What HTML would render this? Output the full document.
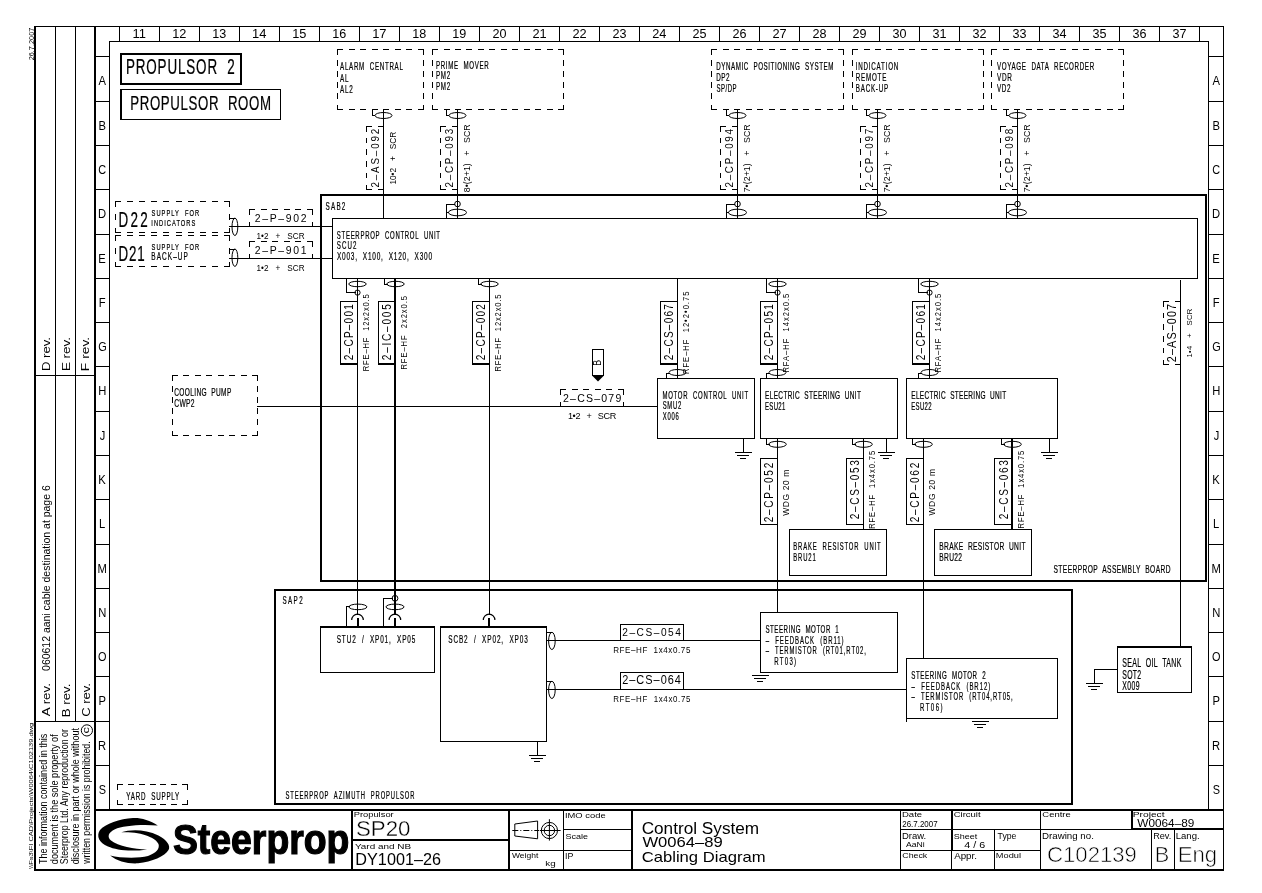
<!DOCTYPE html>
<html><head><meta charset="utf-8"><style>
html,body{margin:0;padding:0;background:#fff;}
svg{display:block;}
text{font-family:"Liberation Sans",sans-serif;fill:#000;white-space:pre;}
svg{will-change:transform;}
</style></head><body>
<svg width="1262" height="893" viewBox="0 0 1262 893" shape-rendering="crispEdges">
<rect x="0" y="0" width="1262" height="893" fill="#fff"/>
<rect x="34" y="26" width="2" height="845"/>
<rect x="34" y="26" width="1190" height="1"/>
<rect x="55" y="26" width="1" height="696"/>
<rect x="75" y="26" width="1" height="696"/>
<rect x="94" y="26" width="2" height="845"/>
<rect x="34" y="375" width="61" height="1"/>
<rect x="34" y="721" width="61" height="1"/>
<rect x="109" y="41" width="1" height="769"/>
<rect x="109" y="41" width="1100" height="1"/>
<rect x="119" y="26" width="1" height="16"/>
<rect x="159" y="26" width="1" height="16"/>
<rect x="199" y="26" width="1" height="16"/>
<rect x="239" y="26" width="1" height="16"/>
<rect x="279" y="26" width="1" height="16"/>
<rect x="319" y="26" width="1" height="16"/>
<rect x="359" y="26" width="1" height="16"/>
<rect x="399" y="26" width="1" height="16"/>
<rect x="439" y="26" width="1" height="16"/>
<rect x="479" y="26" width="1" height="16"/>
<rect x="519" y="26" width="1" height="16"/>
<rect x="559" y="26" width="1" height="16"/>
<rect x="599" y="26" width="1" height="16"/>
<rect x="639" y="26" width="1" height="16"/>
<rect x="679" y="26" width="1" height="16"/>
<rect x="719" y="26" width="1" height="16"/>
<rect x="759" y="26" width="1" height="16"/>
<rect x="799" y="26" width="1" height="16"/>
<rect x="839" y="26" width="1" height="16"/>
<rect x="879" y="26" width="1" height="16"/>
<rect x="919" y="26" width="1" height="16"/>
<rect x="959" y="26" width="1" height="16"/>
<rect x="999" y="26" width="1" height="16"/>
<rect x="1039" y="26" width="1" height="16"/>
<rect x="1079" y="26" width="1" height="16"/>
<rect x="1119" y="26" width="1" height="16"/>
<rect x="1159" y="26" width="1" height="16"/>
<rect x="1199" y="26" width="1" height="16"/>
<rect x="95" y="56" width="15" height="1"/>
<rect x="1208" y="56" width="16" height="1"/>
<rect x="95" y="101" width="15" height="1"/>
<rect x="1208" y="101" width="16" height="1"/>
<rect x="95" y="145" width="15" height="1"/>
<rect x="1208" y="145" width="16" height="1"/>
<rect x="95" y="189" width="15" height="1"/>
<rect x="1208" y="189" width="16" height="1"/>
<rect x="95" y="234" width="15" height="1"/>
<rect x="1208" y="234" width="16" height="1"/>
<rect x="95" y="278" width="15" height="1"/>
<rect x="1208" y="278" width="16" height="1"/>
<rect x="95" y="322" width="15" height="1"/>
<rect x="1208" y="322" width="16" height="1"/>
<rect x="95" y="366" width="15" height="1"/>
<rect x="1208" y="366" width="16" height="1"/>
<rect x="95" y="411" width="15" height="1"/>
<rect x="1208" y="411" width="16" height="1"/>
<rect x="95" y="455" width="15" height="1"/>
<rect x="1208" y="455" width="16" height="1"/>
<rect x="95" y="499" width="15" height="1"/>
<rect x="1208" y="499" width="16" height="1"/>
<rect x="95" y="544" width="15" height="1"/>
<rect x="1208" y="544" width="16" height="1"/>
<rect x="95" y="588" width="15" height="1"/>
<rect x="1208" y="588" width="16" height="1"/>
<rect x="95" y="632" width="15" height="1"/>
<rect x="1208" y="632" width="16" height="1"/>
<rect x="95" y="676" width="15" height="1"/>
<rect x="1208" y="676" width="16" height="1"/>
<rect x="95" y="721" width="15" height="1"/>
<rect x="1208" y="721" width="16" height="1"/>
<rect x="95" y="765" width="15" height="1"/>
<rect x="1208" y="765" width="16" height="1"/>
<rect x="1208" y="41" width="1" height="769"/>
<rect x="1223" y="26" width="1" height="845"/>
<rect x="94" y="809" width="1130" height="2"/>
<rect x="34" y="869" width="1190" height="2"/>
<text transform="translate(132.61,38.00) scale(1.0000,1)" font-size="12.945">11</text>
<text transform="translate(172.26,38.00) scale(1.0000,1)" font-size="12.760">12</text>
<text transform="translate(212.31,37.87) scale(1.0000,1)" font-size="12.580">13</text>
<text transform="translate(252.01,38.00) scale(1.0000,1)" font-size="12.945">14</text>
<text transform="translate(292.19,37.87) scale(1.0000,1)" font-size="12.760">15</text>
<text transform="translate(332.31,37.87) scale(1.0000,1)" font-size="12.580">16</text>
<text transform="translate(372.15,38.00) scale(1.0000,1)" font-size="12.945">17</text>
<text transform="translate(412.31,37.87) scale(1.0000,1)" font-size="12.580">18</text>
<text transform="translate(452.33,37.87) scale(1.0000,1)" font-size="12.580">19</text>
<text transform="translate(492.44,37.87) scale(1.0000,1)" font-size="12.580">20</text>
<text transform="translate(532.40,38.00) scale(1.0000,1)" font-size="12.760">21</text>
<text transform="translate(572.42,38.00) scale(1.0000,1)" font-size="12.760">22</text>
<text transform="translate(612.47,37.87) scale(1.0000,1)" font-size="12.580">23</text>
<text transform="translate(652.27,38.00) scale(1.0000,1)" font-size="12.760">24</text>
<text transform="translate(692.46,37.87) scale(1.0000,1)" font-size="12.580">25</text>
<text transform="translate(732.47,37.87) scale(1.0000,1)" font-size="12.580">26</text>
<text transform="translate(772.42,38.00) scale(1.0000,1)" font-size="12.760">27</text>
<text transform="translate(812.47,37.87) scale(1.0000,1)" font-size="12.580">28</text>
<text transform="translate(852.49,37.87) scale(1.0000,1)" font-size="12.580">29</text>
<text transform="translate(892.52,37.87) scale(1.0000,1)" font-size="12.580">30</text>
<text transform="translate(932.58,37.87) scale(1.0000,1)" font-size="12.580">31</text>
<text transform="translate(972.60,37.87) scale(1.0000,1)" font-size="12.580">32</text>
<text transform="translate(1012.55,37.87) scale(1.0000,1)" font-size="12.580">33</text>
<text transform="translate(1052.46,37.87) scale(1.0000,1)" font-size="12.580">34</text>
<text transform="translate(1092.53,37.87) scale(1.0000,1)" font-size="12.580">35</text>
<text transform="translate(1132.55,37.87) scale(1.0000,1)" font-size="12.580">36</text>
<text transform="translate(1172.60,37.87) scale(1.0000,1)" font-size="12.580">37</text>
<text transform="translate(98.55,85.20) scale(0.9200,1)" font-size="12.218">A</text>
<text transform="translate(1212.55,85.20) scale(0.9200,1)" font-size="12.218">A</text>
<text transform="translate(98.38,130.20) scale(0.9200,1)" font-size="12.218">B</text>
<text transform="translate(1212.38,130.20) scale(0.9200,1)" font-size="12.218">B</text>
<text transform="translate(98.30,174.08) scale(0.9200,1)" font-size="11.873">C</text>
<text transform="translate(1212.30,174.08) scale(0.9200,1)" font-size="11.873">C</text>
<text transform="translate(98.04,218.20) scale(0.9200,1)" font-size="12.218">D</text>
<text transform="translate(1212.04,218.20) scale(0.9200,1)" font-size="12.218">D</text>
<text transform="translate(98.32,263.20) scale(0.9200,1)" font-size="12.218">E</text>
<text transform="translate(1212.32,263.20) scale(0.9200,1)" font-size="12.218">E</text>
<text transform="translate(98.63,307.20) scale(0.9200,1)" font-size="12.218">F</text>
<text transform="translate(1212.63,307.20) scale(0.9200,1)" font-size="12.218">F</text>
<text transform="translate(98.19,351.08) scale(0.9200,1)" font-size="11.873">G</text>
<text transform="translate(1212.19,351.08) scale(0.9200,1)" font-size="11.873">G</text>
<text transform="translate(98.24,395.20) scale(0.9200,1)" font-size="12.218">H</text>
<text transform="translate(1212.24,395.20) scale(0.9200,1)" font-size="12.218">H</text>
<text transform="translate(99.86,440.08) scale(0.9200,1)" font-size="12.043">J</text>
<text transform="translate(1213.86,440.08) scale(0.9200,1)" font-size="12.043">J</text>
<text transform="translate(98.15,484.20) scale(0.9200,1)" font-size="12.218">K</text>
<text transform="translate(1212.15,484.20) scale(0.9200,1)" font-size="12.218">K</text>
<text transform="translate(98.90,528.20) scale(0.9200,1)" font-size="12.218">L</text>
<text transform="translate(1212.90,528.20) scale(0.9200,1)" font-size="12.218">L</text>
<text transform="translate(97.62,573.20) scale(0.9200,1)" font-size="12.218">M</text>
<text transform="translate(1211.62,573.20) scale(0.9200,1)" font-size="12.218">M</text>
<text transform="translate(98.24,617.20) scale(0.9200,1)" font-size="12.218">N</text>
<text transform="translate(1212.24,617.20) scale(0.9200,1)" font-size="12.218">N</text>
<text transform="translate(98.05,661.08) scale(0.9200,1)" font-size="11.873">O</text>
<text transform="translate(1212.05,661.08) scale(0.9200,1)" font-size="11.873">O</text>
<text transform="translate(98.38,705.20) scale(0.9200,1)" font-size="12.218">P</text>
<text transform="translate(1212.38,705.20) scale(0.9200,1)" font-size="12.218">P</text>
<text transform="translate(98.04,750.20) scale(0.9200,1)" font-size="12.218">R</text>
<text transform="translate(1212.04,750.20) scale(0.9200,1)" font-size="12.218">R</text>
<text transform="translate(98.67,794.08) scale(0.9200,1)" font-size="11.873">S</text>
<text transform="translate(1212.67,794.08) scale(0.9200,1)" font-size="11.873">S</text>
<text transform="translate(34.03,60.37) rotate(-90) scale(1.0415,1)" font-size="7.067">26.7.2007</text>
<text transform="translate(50.09,371.09) rotate(-90) scale(1.1638,1)" font-size="11.326">D rev.</text>
<text transform="translate(69.79,371.11) rotate(-90) scale(1.1909,1)" font-size="11.326">E rev.</text>
<text transform="translate(89.49,371.14) rotate(-90) scale(1.2206,1)" font-size="11.326">F rev.</text>
<text transform="translate(50.09,716.23) rotate(-90) scale(1.1936,1)" font-size="11.183">A rev.</text>
<text transform="translate(50.20,670.92) rotate(-90) scale(0.9241,1)" font-size="11.345">060612 aani cable destination at page 6</text>
<text transform="translate(69.89,717.30) rotate(-90) scale(1.1722,1)" font-size="11.326">B rev.</text>
<text transform="translate(89.88,716.85) rotate(-90) scale(1.1087,1)" font-size="11.731">C rev.</text>
<rect x="120" y="53" width="122" height="2"/>
<rect x="120" y="83" width="122" height="2"/>
<rect x="120" y="53" width="2" height="32"/>
<rect x="240" y="53" width="2" height="32"/>
<text transform="translate(125.89,74.09) scale(0.6300,1)" font-size="21.343" letter-spacing="1.359" stroke="#000" stroke-width="0.2" vector-effect="non-scaling-stroke">PROPULSOR  2</text>
<rect x="120" y="89" width="161" height="1"/>
<rect x="120" y="119" width="161" height="1"/>
<rect x="120" y="89" width="1" height="31"/>
<rect x="280" y="89" width="1" height="31"/>
<rect x="121" y="89" width="1" height="31"/>
<text transform="translate(130.21,110.09) scale(0.6300,1)" font-size="21.060" letter-spacing="1.014" stroke="#000" stroke-width="0.2" vector-effect="non-scaling-stroke">PROPULSOR  ROOM</text>
<rect x="337.0" y="49" width="6.0" height="1"/>
<rect x="348.6" y="49" width="6.0" height="1"/>
<rect x="360.1" y="49" width="6.0" height="1"/>
<rect x="371.7" y="49" width="6.0" height="1"/>
<rect x="383.3" y="49" width="6.0" height="1"/>
<rect x="394.9" y="49" width="6.0" height="1"/>
<rect x="406.4" y="49" width="6.0" height="1"/>
<rect x="418.0" y="49" width="6.0" height="1"/>
<rect x="337.0" y="109" width="6.0" height="1"/>
<rect x="348.6" y="109" width="6.0" height="1"/>
<rect x="360.1" y="109" width="6.0" height="1"/>
<rect x="371.7" y="109" width="6.0" height="1"/>
<rect x="383.3" y="109" width="6.0" height="1"/>
<rect x="394.9" y="109" width="6.0" height="1"/>
<rect x="406.4" y="109" width="6.0" height="1"/>
<rect x="418.0" y="109" width="6.0" height="1"/>
<rect x="337" y="49.0" width="1" height="5.5"/>
<rect x="337" y="60.1" width="1" height="5.5"/>
<rect x="337" y="71.2" width="1" height="5.5"/>
<rect x="337" y="82.3" width="1" height="5.5"/>
<rect x="337" y="93.4" width="1" height="5.5"/>
<rect x="337" y="104.5" width="1" height="5.5"/>
<rect x="423" y="49.0" width="1" height="5.5"/>
<rect x="423" y="60.1" width="1" height="5.5"/>
<rect x="423" y="71.2" width="1" height="5.5"/>
<rect x="423" y="82.3" width="1" height="5.5"/>
<rect x="423" y="93.4" width="1" height="5.5"/>
<rect x="423" y="104.5" width="1" height="5.5"/>
<text transform="translate(340.08,69.69) scale(0.5800,1)" font-size="10.742" letter-spacing="1.183" stroke="#000" stroke-width="0.2" vector-effect="non-scaling-stroke">ALARM  CENTRAL</text>
<text transform="translate(340.08,81.50) scale(0.5800,1)" font-size="10.909" letter-spacing="1.201" stroke="#000" stroke-width="0.2" vector-effect="non-scaling-stroke">AL</text>
<text transform="translate(340.08,92.60) scale(0.5800,1)" font-size="10.896" letter-spacing="1.199" stroke="#000" stroke-width="0.2" vector-effect="non-scaling-stroke">AL2</text>
<rect x="432.0" y="49" width="6.0" height="1"/>
<rect x="443.5" y="49" width="6.0" height="1"/>
<rect x="454.9" y="49" width="6.0" height="1"/>
<rect x="466.4" y="49" width="6.0" height="1"/>
<rect x="477.8" y="49" width="6.0" height="1"/>
<rect x="489.3" y="49" width="6.0" height="1"/>
<rect x="500.7" y="49" width="6.0" height="1"/>
<rect x="512.2" y="49" width="6.0" height="1"/>
<rect x="523.6" y="49" width="6.0" height="1"/>
<rect x="535.1" y="49" width="6.0" height="1"/>
<rect x="546.5" y="49" width="6.0" height="1"/>
<rect x="558.0" y="49" width="6.0" height="1"/>
<rect x="432.0" y="109" width="6.0" height="1"/>
<rect x="443.5" y="109" width="6.0" height="1"/>
<rect x="454.9" y="109" width="6.0" height="1"/>
<rect x="466.4" y="109" width="6.0" height="1"/>
<rect x="477.8" y="109" width="6.0" height="1"/>
<rect x="489.3" y="109" width="6.0" height="1"/>
<rect x="500.7" y="109" width="6.0" height="1"/>
<rect x="512.2" y="109" width="6.0" height="1"/>
<rect x="523.6" y="109" width="6.0" height="1"/>
<rect x="535.1" y="109" width="6.0" height="1"/>
<rect x="546.5" y="109" width="6.0" height="1"/>
<rect x="558.0" y="109" width="6.0" height="1"/>
<rect x="432" y="49.0" width="1" height="5.5"/>
<rect x="432" y="60.1" width="1" height="5.5"/>
<rect x="432" y="71.2" width="1" height="5.5"/>
<rect x="432" y="82.3" width="1" height="5.5"/>
<rect x="432" y="93.4" width="1" height="5.5"/>
<rect x="432" y="104.5" width="1" height="5.5"/>
<rect x="563" y="49.0" width="1" height="5.5"/>
<rect x="563" y="60.1" width="1" height="5.5"/>
<rect x="563" y="71.2" width="1" height="5.5"/>
<rect x="563" y="82.3" width="1" height="5.5"/>
<rect x="563" y="93.4" width="1" height="5.5"/>
<rect x="563" y="104.5" width="1" height="5.5"/>
<text transform="translate(435.99,68.59) scale(0.5800,1)" font-size="10.601" letter-spacing="1.138" stroke="#000" stroke-width="0.2" vector-effect="non-scaling-stroke">PRIME  MOVER</text>
<text transform="translate(435.99,79.10) scale(0.5800,1)" font-size="10.753" letter-spacing="1.155" stroke="#000" stroke-width="0.2" vector-effect="non-scaling-stroke">PM2</text>
<text transform="translate(435.99,89.80) scale(0.5800,1)" font-size="10.753" letter-spacing="1.155" stroke="#000" stroke-width="0.2" vector-effect="non-scaling-stroke">PM2</text>
<rect x="711.0" y="49" width="6.0" height="1"/>
<rect x="722.5" y="49" width="6.0" height="1"/>
<rect x="734.1" y="49" width="6.0" height="1"/>
<rect x="745.6" y="49" width="6.0" height="1"/>
<rect x="757.2" y="49" width="6.0" height="1"/>
<rect x="768.7" y="49" width="6.0" height="1"/>
<rect x="780.3" y="49" width="6.0" height="1"/>
<rect x="791.8" y="49" width="6.0" height="1"/>
<rect x="803.4" y="49" width="6.0" height="1"/>
<rect x="814.9" y="49" width="6.0" height="1"/>
<rect x="826.5" y="49" width="6.0" height="1"/>
<rect x="838.0" y="49" width="6.0" height="1"/>
<rect x="711.0" y="109" width="6.0" height="1"/>
<rect x="722.5" y="109" width="6.0" height="1"/>
<rect x="734.1" y="109" width="6.0" height="1"/>
<rect x="745.6" y="109" width="6.0" height="1"/>
<rect x="757.2" y="109" width="6.0" height="1"/>
<rect x="768.7" y="109" width="6.0" height="1"/>
<rect x="780.3" y="109" width="6.0" height="1"/>
<rect x="791.8" y="109" width="6.0" height="1"/>
<rect x="803.4" y="109" width="6.0" height="1"/>
<rect x="814.9" y="109" width="6.0" height="1"/>
<rect x="826.5" y="109" width="6.0" height="1"/>
<rect x="838.0" y="109" width="6.0" height="1"/>
<rect x="711" y="49.0" width="1" height="5.5"/>
<rect x="711" y="60.1" width="1" height="5.5"/>
<rect x="711" y="71.2" width="1" height="5.5"/>
<rect x="711" y="82.3" width="1" height="5.5"/>
<rect x="711" y="93.4" width="1" height="5.5"/>
<rect x="711" y="104.5" width="1" height="5.5"/>
<rect x="843" y="49.0" width="1" height="5.5"/>
<rect x="843" y="60.1" width="1" height="5.5"/>
<rect x="843" y="71.2" width="1" height="5.5"/>
<rect x="843" y="82.3" width="1" height="5.5"/>
<rect x="843" y="93.4" width="1" height="5.5"/>
<rect x="843" y="104.5" width="1" height="5.5"/>
<text transform="translate(716.19,69.89) scale(0.5800,1)" font-size="10.742" letter-spacing="0.978" stroke="#000" stroke-width="0.2" vector-effect="non-scaling-stroke">DYNAMIC  POSITIONING  SYSTEM</text>
<text transform="translate(716.18,80.90) scale(0.5800,1)" font-size="10.896" letter-spacing="0.992" stroke="#000" stroke-width="0.2" vector-effect="non-scaling-stroke">DP2</text>
<text transform="translate(716.43,91.60) scale(0.5800,1)" font-size="10.340" letter-spacing="0.941" stroke="#000" stroke-width="0.2" vector-effect="non-scaling-stroke">SP/DP</text>
<rect x="852.0" y="49" width="6.0" height="1"/>
<rect x="863.5" y="49" width="6.0" height="1"/>
<rect x="874.9" y="49" width="6.0" height="1"/>
<rect x="886.4" y="49" width="6.0" height="1"/>
<rect x="897.8" y="49" width="6.0" height="1"/>
<rect x="909.3" y="49" width="6.0" height="1"/>
<rect x="920.7" y="49" width="6.0" height="1"/>
<rect x="932.2" y="49" width="6.0" height="1"/>
<rect x="943.6" y="49" width="6.0" height="1"/>
<rect x="955.1" y="49" width="6.0" height="1"/>
<rect x="966.5" y="49" width="6.0" height="1"/>
<rect x="978.0" y="49" width="6.0" height="1"/>
<rect x="852.0" y="109" width="6.0" height="1"/>
<rect x="863.5" y="109" width="6.0" height="1"/>
<rect x="874.9" y="109" width="6.0" height="1"/>
<rect x="886.4" y="109" width="6.0" height="1"/>
<rect x="897.8" y="109" width="6.0" height="1"/>
<rect x="909.3" y="109" width="6.0" height="1"/>
<rect x="920.7" y="109" width="6.0" height="1"/>
<rect x="932.2" y="109" width="6.0" height="1"/>
<rect x="943.6" y="109" width="6.0" height="1"/>
<rect x="955.1" y="109" width="6.0" height="1"/>
<rect x="966.5" y="109" width="6.0" height="1"/>
<rect x="978.0" y="109" width="6.0" height="1"/>
<rect x="852" y="49.0" width="1" height="5.5"/>
<rect x="852" y="60.1" width="1" height="5.5"/>
<rect x="852" y="71.2" width="1" height="5.5"/>
<rect x="852" y="82.3" width="1" height="5.5"/>
<rect x="852" y="93.4" width="1" height="5.5"/>
<rect x="852" y="104.5" width="1" height="5.5"/>
<rect x="983" y="49.0" width="1" height="5.5"/>
<rect x="983" y="60.1" width="1" height="5.5"/>
<rect x="983" y="71.2" width="1" height="5.5"/>
<rect x="983" y="82.3" width="1" height="5.5"/>
<rect x="983" y="93.4" width="1" height="5.5"/>
<rect x="983" y="104.5" width="1" height="5.5"/>
<text transform="translate(855.72,69.89) scale(0.5800,1)" font-size="10.742" letter-spacing="1.350" stroke="#000" stroke-width="0.2" vector-effect="non-scaling-stroke">INDICATION</text>
<text transform="translate(855.79,80.79) scale(0.5800,1)" font-size="10.742" letter-spacing="1.350" stroke="#000" stroke-width="0.2" vector-effect="non-scaling-stroke">REMOTE</text>
<text transform="translate(855.79,91.59) scale(0.5800,1)" font-size="10.742" letter-spacing="1.350" stroke="#000" stroke-width="0.2" vector-effect="non-scaling-stroke">BACK-UP</text>
<rect x="991.0" y="49" width="6.0" height="1"/>
<rect x="1002.5" y="49" width="6.0" height="1"/>
<rect x="1014.1" y="49" width="6.0" height="1"/>
<rect x="1025.6" y="49" width="6.0" height="1"/>
<rect x="1037.2" y="49" width="6.0" height="1"/>
<rect x="1048.7" y="49" width="6.0" height="1"/>
<rect x="1060.3" y="49" width="6.0" height="1"/>
<rect x="1071.8" y="49" width="6.0" height="1"/>
<rect x="1083.4" y="49" width="6.0" height="1"/>
<rect x="1094.9" y="49" width="6.0" height="1"/>
<rect x="1106.5" y="49" width="6.0" height="1"/>
<rect x="1118.0" y="49" width="6.0" height="1"/>
<rect x="991.0" y="109" width="6.0" height="1"/>
<rect x="1002.5" y="109" width="6.0" height="1"/>
<rect x="1014.1" y="109" width="6.0" height="1"/>
<rect x="1025.6" y="109" width="6.0" height="1"/>
<rect x="1037.2" y="109" width="6.0" height="1"/>
<rect x="1048.7" y="109" width="6.0" height="1"/>
<rect x="1060.3" y="109" width="6.0" height="1"/>
<rect x="1071.8" y="109" width="6.0" height="1"/>
<rect x="1083.4" y="109" width="6.0" height="1"/>
<rect x="1094.9" y="109" width="6.0" height="1"/>
<rect x="1106.5" y="109" width="6.0" height="1"/>
<rect x="1118.0" y="109" width="6.0" height="1"/>
<rect x="991" y="49.0" width="1" height="5.5"/>
<rect x="991" y="60.1" width="1" height="5.5"/>
<rect x="991" y="71.2" width="1" height="5.5"/>
<rect x="991" y="82.3" width="1" height="5.5"/>
<rect x="991" y="93.4" width="1" height="5.5"/>
<rect x="991" y="104.5" width="1" height="5.5"/>
<rect x="1123" y="49.0" width="1" height="5.5"/>
<rect x="1123" y="60.1" width="1" height="5.5"/>
<rect x="1123" y="71.2" width="1" height="5.5"/>
<rect x="1123" y="82.3" width="1" height="5.5"/>
<rect x="1123" y="93.4" width="1" height="5.5"/>
<rect x="1123" y="104.5" width="1" height="5.5"/>
<text transform="translate(996.97,69.89) scale(0.5800,1)" font-size="10.742" letter-spacing="1.112" stroke="#000" stroke-width="0.2" vector-effect="non-scaling-stroke">VOYAGE  DATA  RECORDER</text>
<text transform="translate(996.97,80.90) scale(0.5800,1)" font-size="11.055" letter-spacing="1.144" stroke="#000" stroke-width="0.2" vector-effect="non-scaling-stroke">VDR</text>
<text transform="translate(996.97,91.70) scale(0.5800,1)" font-size="10.896" letter-spacing="1.128" stroke="#000" stroke-width="0.2" vector-effect="non-scaling-stroke">VD2</text>
<rect x="383" y="109" width="1" height="110"/>
<ellipse cx="383.5" cy="115.5" rx="8.5" ry="3" fill="none" stroke="#000" stroke-width="1.0" shape-rendering="geometricPrecision"/>
<rect x="372" y="110" width="1" height="6"/>
<rect x="372" y="115" width="3" height="1"/>
<rect x="366.0" y="126" width="6.0" height="1"/>
<rect x="378.0" y="126" width="6.0" height="1"/>
<rect x="366.0" y="189" width="6.0" height="1"/>
<rect x="378.0" y="189" width="6.0" height="1"/>
<rect x="366" y="126.0" width="1" height="5.5"/>
<rect x="366" y="137.7" width="1" height="5.5"/>
<rect x="366" y="149.4" width="1" height="5.5"/>
<rect x="366" y="161.1" width="1" height="5.5"/>
<rect x="366" y="172.8" width="1" height="5.5"/>
<rect x="366" y="184.5" width="1" height="5.5"/>
<text transform="translate(378.58,187.49) rotate(-90) scale(0.8400,1)" font-size="11.731" letter-spacing="2.154">2–AS–092</text>
<text transform="translate(395.51,184.62) rotate(-90) scale(0.9500,1)" font-size="8.763" letter-spacing="-0.009">10•2   +   SCR</text>
<rect x="457" y="109" width="1" height="110"/>
<ellipse cx="457.5" cy="115.5" rx="8.5" ry="3" fill="none" stroke="#000" stroke-width="1.0" shape-rendering="geometricPrecision"/>
<rect x="446" y="110" width="1" height="6"/>
<rect x="446" y="115" width="3" height="1"/>
<rect x="440.0" y="126" width="6.0" height="1"/>
<rect x="452.0" y="126" width="6.0" height="1"/>
<rect x="440.0" y="189" width="6.0" height="1"/>
<rect x="452.0" y="189" width="6.0" height="1"/>
<rect x="440" y="126.0" width="1" height="5.5"/>
<rect x="440" y="137.7" width="1" height="5.5"/>
<rect x="440" y="149.4" width="1" height="5.5"/>
<rect x="440" y="161.1" width="1" height="5.5"/>
<rect x="440" y="172.8" width="1" height="5.5"/>
<rect x="440" y="184.5" width="1" height="5.5"/>
<text transform="translate(452.58,187.49) rotate(-90) scale(0.8400,1)" font-size="11.731" letter-spacing="2.049">2–CP–093</text>
<text transform="translate(469.50,192.27) rotate(-90) scale(0.9500,1)" font-size="9.164" letter-spacing="0.101">8•(2+1)   +   SCR</text>
<circle cx="457.5" cy="204" r="2.8" fill="none" stroke="#000" stroke-width="1.0" shape-rendering="geometricPrecision"/>
<rect x="446" y="204" width="9" height="1"/>
<rect x="446" y="204" width="1" height="15"/>
<ellipse cx="457.5" cy="212.5" rx="9" ry="3.3" fill="none" stroke="#000" stroke-width="1.0" shape-rendering="geometricPrecision"/>
<rect x="446" y="212" width="3" height="1"/>
<rect x="737" y="109" width="1" height="110"/>
<ellipse cx="737.5" cy="115.5" rx="8.5" ry="3" fill="none" stroke="#000" stroke-width="1.0" shape-rendering="geometricPrecision"/>
<rect x="726" y="110" width="1" height="6"/>
<rect x="726" y="115" width="3" height="1"/>
<rect x="720.0" y="126" width="6.0" height="1"/>
<rect x="732.0" y="126" width="6.0" height="1"/>
<rect x="720.0" y="189" width="6.0" height="1"/>
<rect x="732.0" y="189" width="6.0" height="1"/>
<rect x="720" y="126.0" width="1" height="5.5"/>
<rect x="720" y="137.7" width="1" height="5.5"/>
<rect x="720" y="149.4" width="1" height="5.5"/>
<rect x="720" y="161.1" width="1" height="5.5"/>
<rect x="720" y="172.8" width="1" height="5.5"/>
<rect x="720" y="184.5" width="1" height="5.5"/>
<text transform="translate(732.58,187.49) rotate(-90) scale(0.8400,1)" font-size="11.731" letter-spacing="2.024">2–CP–094</text>
<text transform="translate(749.50,192.36) rotate(-90) scale(0.9500,1)" font-size="9.164" letter-spacing="0.107">7•(2+1)   +   SCR</text>
<circle cx="737.5" cy="204" r="2.8" fill="none" stroke="#000" stroke-width="1.0" shape-rendering="geometricPrecision"/>
<rect x="726" y="204" width="9" height="1"/>
<rect x="726" y="204" width="1" height="15"/>
<ellipse cx="737.5" cy="212.5" rx="9" ry="3.3" fill="none" stroke="#000" stroke-width="1.0" shape-rendering="geometricPrecision"/>
<rect x="726" y="212" width="3" height="1"/>
<rect x="877" y="109" width="1" height="110"/>
<ellipse cx="877.5" cy="115.5" rx="8.5" ry="3" fill="none" stroke="#000" stroke-width="1.0" shape-rendering="geometricPrecision"/>
<rect x="866" y="110" width="1" height="6"/>
<rect x="866" y="115" width="3" height="1"/>
<rect x="860.0" y="126" width="6.0" height="1"/>
<rect x="872.0" y="126" width="6.0" height="1"/>
<rect x="860.0" y="189" width="6.0" height="1"/>
<rect x="872.0" y="189" width="6.0" height="1"/>
<rect x="860" y="126.0" width="1" height="5.5"/>
<rect x="860" y="137.7" width="1" height="5.5"/>
<rect x="860" y="149.4" width="1" height="5.5"/>
<rect x="860" y="161.1" width="1" height="5.5"/>
<rect x="860" y="172.8" width="1" height="5.5"/>
<rect x="860" y="184.5" width="1" height="5.5"/>
<text transform="translate(872.58,187.49) rotate(-90) scale(0.8400,1)" font-size="11.731" letter-spacing="2.062">2–CP–097</text>
<text transform="translate(889.50,192.36) rotate(-90) scale(0.9500,1)" font-size="9.164" letter-spacing="0.107">7•(2+1)   +   SCR</text>
<circle cx="877.5" cy="204" r="2.8" fill="none" stroke="#000" stroke-width="1.0" shape-rendering="geometricPrecision"/>
<rect x="866" y="204" width="9" height="1"/>
<rect x="866" y="204" width="1" height="15"/>
<ellipse cx="877.5" cy="212.5" rx="9" ry="3.3" fill="none" stroke="#000" stroke-width="1.0" shape-rendering="geometricPrecision"/>
<rect x="866" y="212" width="3" height="1"/>
<rect x="1017" y="109" width="1" height="110"/>
<ellipse cx="1017.5" cy="115.5" rx="8.5" ry="3" fill="none" stroke="#000" stroke-width="1.0" shape-rendering="geometricPrecision"/>
<rect x="1006" y="110" width="1" height="6"/>
<rect x="1006" y="115" width="3" height="1"/>
<rect x="1000.0" y="126" width="6.0" height="1"/>
<rect x="1012.0" y="126" width="6.0" height="1"/>
<rect x="1000.0" y="189" width="6.0" height="1"/>
<rect x="1012.0" y="189" width="6.0" height="1"/>
<rect x="1000" y="126.0" width="1" height="5.5"/>
<rect x="1000" y="137.7" width="1" height="5.5"/>
<rect x="1000" y="149.4" width="1" height="5.5"/>
<rect x="1000" y="161.1" width="1" height="5.5"/>
<rect x="1000" y="172.8" width="1" height="5.5"/>
<rect x="1000" y="184.5" width="1" height="5.5"/>
<text transform="translate(1012.58,187.49) rotate(-90) scale(0.8400,1)" font-size="11.731" letter-spacing="2.049">2–CP–098</text>
<text transform="translate(1029.50,192.36) rotate(-90) scale(0.9500,1)" font-size="9.164" letter-spacing="0.107">7•(2+1)   +   SCR</text>
<circle cx="1017.5" cy="204" r="2.8" fill="none" stroke="#000" stroke-width="1.0" shape-rendering="geometricPrecision"/>
<rect x="1006" y="204" width="9" height="1"/>
<rect x="1006" y="204" width="1" height="15"/>
<ellipse cx="1017.5" cy="212.5" rx="9" ry="3.3" fill="none" stroke="#000" stroke-width="1.0" shape-rendering="geometricPrecision"/>
<rect x="1006" y="212" width="3" height="1"/>
<rect x="320" y="194" width="887" height="2"/>
<rect x="320" y="580" width="887" height="2"/>
<rect x="320" y="194" width="2" height="388"/>
<rect x="1205" y="194" width="2" height="388"/>
<text transform="translate(325.62,209.59) scale(0.5800,1)" font-size="10.883" letter-spacing="2.053" stroke="#000" stroke-width="0.2" vector-effect="non-scaling-stroke">SAB2</text>
<rect x="332" y="218" width="866" height="1"/>
<rect x="332" y="278" width="866" height="1"/>
<rect x="332" y="218" width="1" height="61"/>
<rect x="1197" y="218" width="1" height="61"/>
<text transform="translate(336.83,238.50) scale(0.5800,1)" font-size="10.318" letter-spacing="1.264" stroke="#000" stroke-width="0.2" vector-effect="non-scaling-stroke">STEERPROP  CONTROL  UNIT</text>
<text transform="translate(336.82,248.99) scale(0.5800,1)" font-size="10.601" letter-spacing="1.829" stroke="#000" stroke-width="0.2" vector-effect="non-scaling-stroke">SCU2</text>
<text transform="translate(336.95,259.90) scale(0.5800,1)" font-size="11.200" letter-spacing="1.312" stroke="#000" stroke-width="0.2" vector-effect="non-scaling-stroke">X003,  X100,  X120,  X300</text>
<text transform="translate(1053.50,573.29) scale(0.5800,1)" font-size="11.449" letter-spacing="0.728" stroke="#000" stroke-width="0.2" vector-effect="non-scaling-stroke">STEERPROP  ASSEMBLY  BOARD</text>
<rect x="115.0" y="201" width="6.0" height="1"/>
<rect x="127.1" y="201" width="6.0" height="1"/>
<rect x="139.2" y="201" width="6.0" height="1"/>
<rect x="151.3" y="201" width="6.0" height="1"/>
<rect x="163.4" y="201" width="6.0" height="1"/>
<rect x="175.6" y="201" width="6.0" height="1"/>
<rect x="187.7" y="201" width="6.0" height="1"/>
<rect x="199.8" y="201" width="6.0" height="1"/>
<rect x="211.9" y="201" width="6.0" height="1"/>
<rect x="224.0" y="201" width="6.0" height="1"/>
<rect x="115.0" y="232" width="6.0" height="1"/>
<rect x="127.1" y="232" width="6.0" height="1"/>
<rect x="139.2" y="232" width="6.0" height="1"/>
<rect x="151.3" y="232" width="6.0" height="1"/>
<rect x="163.4" y="232" width="6.0" height="1"/>
<rect x="175.6" y="232" width="6.0" height="1"/>
<rect x="187.7" y="232" width="6.0" height="1"/>
<rect x="199.8" y="232" width="6.0" height="1"/>
<rect x="211.9" y="232" width="6.0" height="1"/>
<rect x="224.0" y="232" width="6.0" height="1"/>
<rect x="115" y="201.0" width="1" height="5.5"/>
<rect x="115" y="214.2" width="1" height="5.5"/>
<rect x="115" y="227.5" width="1" height="5.5"/>
<rect x="229" y="201.0" width="1" height="5.5"/>
<rect x="229" y="214.2" width="1" height="5.5"/>
<rect x="229" y="227.5" width="1" height="5.5"/>
<rect x="115.0" y="235" width="6.0" height="1"/>
<rect x="127.1" y="235" width="6.0" height="1"/>
<rect x="139.2" y="235" width="6.0" height="1"/>
<rect x="151.3" y="235" width="6.0" height="1"/>
<rect x="163.4" y="235" width="6.0" height="1"/>
<rect x="175.6" y="235" width="6.0" height="1"/>
<rect x="187.7" y="235" width="6.0" height="1"/>
<rect x="199.8" y="235" width="6.0" height="1"/>
<rect x="211.9" y="235" width="6.0" height="1"/>
<rect x="224.0" y="235" width="6.0" height="1"/>
<rect x="115.0" y="266" width="6.0" height="1"/>
<rect x="127.1" y="266" width="6.0" height="1"/>
<rect x="139.2" y="266" width="6.0" height="1"/>
<rect x="151.3" y="266" width="6.0" height="1"/>
<rect x="163.4" y="266" width="6.0" height="1"/>
<rect x="175.6" y="266" width="6.0" height="1"/>
<rect x="187.7" y="266" width="6.0" height="1"/>
<rect x="199.8" y="266" width="6.0" height="1"/>
<rect x="211.9" y="266" width="6.0" height="1"/>
<rect x="224.0" y="266" width="6.0" height="1"/>
<rect x="115" y="235.0" width="1" height="5.5"/>
<rect x="115" y="248.2" width="1" height="5.5"/>
<rect x="115" y="261.5" width="1" height="5.5"/>
<rect x="229" y="235.0" width="1" height="5.5"/>
<rect x="229" y="248.2" width="1" height="5.5"/>
<rect x="229" y="261.5" width="1" height="5.5"/>
<text transform="translate(118.49,227.30) scale(0.6300,1)" font-size="21.362" letter-spacing="3.668" stroke="#000" stroke-width="0.2" vector-effect="non-scaling-stroke">D22</text>
<text transform="translate(151.54,215.50) scale(0.5800,1)" font-size="9.894" letter-spacing="1.761" stroke="#000" stroke-width="0.2" vector-effect="non-scaling-stroke">SUPPLY  FOR</text>
<text transform="translate(151.27,226.30) scale(0.5800,1)" font-size="9.894" letter-spacing="1.770" stroke="#000" stroke-width="0.2" vector-effect="non-scaling-stroke">INDICATORS</text>
<text transform="translate(118.50,261.20) scale(0.6300,1)" font-size="21.219" letter-spacing="1.303" stroke="#000" stroke-width="0.2" vector-effect="non-scaling-stroke">D21</text>
<text transform="translate(151.54,249.90) scale(0.5800,1)" font-size="9.894" letter-spacing="1.761" stroke="#000" stroke-width="0.2" vector-effect="non-scaling-stroke">SUPPLY  FOR</text>
<text transform="translate(151.27,260.29) scale(0.5800,1)" font-size="11.166" letter-spacing="1.848" stroke="#000" stroke-width="0.2" vector-effect="non-scaling-stroke">BACK–UP</text>
<rect x="229" y="226" width="104" height="1"/>
<rect x="229" y="218" width="6" height="1"/>
<ellipse cx="234.9" cy="226.8" rx="2.9" ry="8.7" fill="none" stroke="#000" stroke-width="1.0" shape-rendering="geometricPrecision"/>
<rect x="249.0" y="209" width="6.0" height="1"/>
<rect x="260.6" y="209" width="6.0" height="1"/>
<rect x="272.2" y="209" width="6.0" height="1"/>
<rect x="283.8" y="209" width="6.0" height="1"/>
<rect x="295.4" y="209" width="6.0" height="1"/>
<rect x="307.0" y="209" width="6.0" height="1"/>
<rect x="249" y="209.0" width="1" height="5.5"/>
<rect x="249" y="221.5" width="1" height="5.5"/>
<rect x="312" y="209.0" width="1" height="5.5"/>
<rect x="312" y="221.5" width="1" height="5.5"/>
<text transform="translate(254.68,221.88) scale(0.9000,1)" font-size="11.590" letter-spacing="1.888">2–P–902</text>
<text transform="translate(256.39,238.51) scale(0.9500,1)" font-size="8.622" letter-spacing="0.061">1•2   +   SCR</text>
<rect x="229" y="258" width="104" height="1"/>
<rect x="229" y="249" width="6" height="1"/>
<ellipse cx="234.9" cy="257.7" rx="2.9" ry="8.7" fill="none" stroke="#000" stroke-width="1.0" shape-rendering="geometricPrecision"/>
<rect x="249.0" y="241" width="6.0" height="1"/>
<rect x="260.6" y="241" width="6.0" height="1"/>
<rect x="272.2" y="241" width="6.0" height="1"/>
<rect x="283.8" y="241" width="6.0" height="1"/>
<rect x="295.4" y="241" width="6.0" height="1"/>
<rect x="307.0" y="241" width="6.0" height="1"/>
<rect x="249" y="241.0" width="1" height="5.5"/>
<rect x="249" y="253.5" width="1" height="5.5"/>
<rect x="312" y="241.0" width="1" height="5.5"/>
<rect x="312" y="253.5" width="1" height="5.5"/>
<text transform="translate(254.68,253.68) scale(0.9000,1)" font-size="11.590" letter-spacing="1.883">2–P–901</text>
<text transform="translate(256.39,270.51) scale(0.9500,1)" font-size="8.622" letter-spacing="0.061">1•2   +   SCR</text>
<rect x="172.0" y="375" width="6.0" height="1"/>
<rect x="183.4" y="375" width="6.0" height="1"/>
<rect x="194.9" y="375" width="6.0" height="1"/>
<rect x="206.3" y="375" width="6.0" height="1"/>
<rect x="217.7" y="375" width="6.0" height="1"/>
<rect x="229.1" y="375" width="6.0" height="1"/>
<rect x="240.6" y="375" width="6.0" height="1"/>
<rect x="252.0" y="375" width="6.0" height="1"/>
<rect x="172.0" y="435" width="6.0" height="1"/>
<rect x="183.4" y="435" width="6.0" height="1"/>
<rect x="194.9" y="435" width="6.0" height="1"/>
<rect x="206.3" y="435" width="6.0" height="1"/>
<rect x="217.7" y="435" width="6.0" height="1"/>
<rect x="229.1" y="435" width="6.0" height="1"/>
<rect x="240.6" y="435" width="6.0" height="1"/>
<rect x="252.0" y="435" width="6.0" height="1"/>
<rect x="172" y="375.0" width="1" height="5.5"/>
<rect x="172" y="386.1" width="1" height="5.5"/>
<rect x="172" y="397.2" width="1" height="5.5"/>
<rect x="172" y="408.3" width="1" height="5.5"/>
<rect x="172" y="419.4" width="1" height="5.5"/>
<rect x="172" y="430.5" width="1" height="5.5"/>
<rect x="257" y="375.0" width="1" height="5.5"/>
<rect x="257" y="386.1" width="1" height="5.5"/>
<rect x="257" y="397.2" width="1" height="5.5"/>
<rect x="257" y="408.3" width="1" height="5.5"/>
<rect x="257" y="419.4" width="1" height="5.5"/>
<rect x="257" y="430.5" width="1" height="5.5"/>
<text transform="translate(174.27,395.99) scale(0.5800,1)" font-size="11.307" letter-spacing="0.608" stroke="#000" stroke-width="0.2" vector-effect="non-scaling-stroke">COOLING  PUMP</text>
<text transform="translate(174.26,407.08) scale(0.5800,1)" font-size="11.590" letter-spacing="0.495" stroke="#000" stroke-width="0.2" vector-effect="non-scaling-stroke">CWP2</text>
<rect x="257" y="406" width="401" height="1"/>
<rect x="560.0" y="389" width="6.0" height="1"/>
<rect x="571.6" y="389" width="6.0" height="1"/>
<rect x="583.2" y="389" width="6.0" height="1"/>
<rect x="594.8" y="389" width="6.0" height="1"/>
<rect x="606.4" y="389" width="6.0" height="1"/>
<rect x="618.0" y="389" width="6.0" height="1"/>
<rect x="560" y="389.0" width="1" height="5.5"/>
<rect x="560" y="401.5" width="1" height="5.5"/>
<rect x="623" y="389.0" width="1" height="5.5"/>
<rect x="623" y="401.5" width="1" height="5.5"/>
<text transform="translate(562.97,401.68) scale(0.9000,1)" font-size="11.731" letter-spacing="1.352">2–CS–079</text>
<text transform="translate(567.92,418.90) scale(0.9500,1)" font-size="9.611" letter-spacing="-0.418">1•2   +   SCR</text>
<rect x="592" y="349" width="12" height="1"/>
<rect x="592" y="375" width="12" height="1"/>
<rect x="592" y="349" width="1" height="27"/>
<rect x="603" y="349" width="1" height="27"/>
<polygon points="592,375.5 604,375.5 598,381.5" fill="#000" shape-rendering="auto"/>
<text transform="translate(601.40,365.63) rotate(-90) scale(0.8547,1)" font-size="10.327">B</text>
<rect x="357" y="278" width="1" height="337"/>
<ellipse cx="357.5" cy="284" rx="8.7" ry="2.7" fill="none" stroke="#000" stroke-width="1.0" shape-rendering="geometricPrecision"/>
<circle cx="357.5" cy="292.6" r="2.6" fill="none" stroke="#000" stroke-width="1.0" shape-rendering="geometricPrecision"/>
<rect x="346" y="278" width="1" height="15"/>
<rect x="346" y="292" width="10" height="1"/>
<rect x="340" y="301" width="18" height="1"/>
<rect x="340" y="363" width="18" height="2"/>
<rect x="340" y="301" width="1" height="64"/>
<text transform="translate(353.08,360.20) rotate(-90) scale(0.8400,1)" font-size="12.014" letter-spacing="1.429">2–CP–001</text>
<text transform="translate(369.31,371.22) rotate(-90) scale(0.8500,1)" font-size="8.905" letter-spacing="0.994">RFE–HF  12x2x0.5</text>
<rect x="394" y="278" width="2" height="337"/>
<ellipse cx="395.5" cy="284" rx="8.7" ry="2.7" fill="none" stroke="#000" stroke-width="1.0" shape-rendering="geometricPrecision"/>
<rect x="384" y="278" width="1" height="7"/>
<rect x="384" y="284" width="4" height="1"/>
<rect x="378" y="301" width="18" height="1"/>
<rect x="378" y="363" width="18" height="2"/>
<rect x="378" y="301" width="1" height="64"/>
<text transform="translate(391.08,360.20) rotate(-90) scale(0.8400,1)" font-size="12.014" letter-spacing="2.085">2–IC–005</text>
<text transform="translate(407.31,369.62) rotate(-90) scale(0.8500,1)" font-size="8.905" letter-spacing="1.141">RFE–HF  2x2x0.5</text>
<rect x="489" y="278" width="1" height="337"/>
<ellipse cx="489.5" cy="284" rx="8.7" ry="2.7" fill="none" stroke="#000" stroke-width="1.0" shape-rendering="geometricPrecision"/>
<rect x="478" y="278" width="1" height="7"/>
<rect x="478" y="284" width="4" height="1"/>
<rect x="472" y="301" width="18" height="1"/>
<rect x="472" y="363" width="18" height="2"/>
<rect x="472" y="301" width="1" height="64"/>
<text transform="translate(485.08,360.20) rotate(-90) scale(0.8400,1)" font-size="12.014" letter-spacing="1.433">2–CP–002</text>
<text transform="translate(501.31,371.62) rotate(-90) scale(0.8500,1)" font-size="8.905" letter-spacing="1.010">RFE–HF  12x2x0.5</text>
<rect x="677" y="278" width="1" height="101"/>
<rect x="660" y="301" width="18" height="1"/>
<rect x="660" y="363" width="18" height="2"/>
<rect x="660" y="301" width="1" height="64"/>
<text transform="translate(673.08,360.20) rotate(-90) scale(0.8400,1)" font-size="12.014" letter-spacing="1.433">2–CS–067</text>
<text transform="translate(689.31,374.02) rotate(-90) scale(0.8500,1)" font-size="8.905" letter-spacing="1.193">RFE–HF  12•2•0.75</text>
<ellipse cx="677.5" cy="372.5" rx="8.5" ry="3" fill="none" stroke="#000" stroke-width="1.0" shape-rendering="geometricPrecision"/>
<rect x="666" y="373" width="1" height="6"/>
<rect x="666" y="373" width="4" height="1"/>
<rect x="777" y="278" width="1" height="101"/>
<ellipse cx="777.5" cy="284" rx="8.7" ry="2.7" fill="none" stroke="#000" stroke-width="1.0" shape-rendering="geometricPrecision"/>
<circle cx="777.5" cy="292.6" r="2.6" fill="none" stroke="#000" stroke-width="1.0" shape-rendering="geometricPrecision"/>
<rect x="766" y="278" width="1" height="15"/>
<rect x="766" y="292" width="10" height="1"/>
<rect x="760" y="301" width="18" height="1"/>
<rect x="760" y="363" width="18" height="2"/>
<rect x="760" y="301" width="1" height="64"/>
<text transform="translate(773.08,360.20) rotate(-90) scale(0.8400,1)" font-size="12.014" letter-spacing="1.429">2–CP–051</text>
<text transform="translate(789.31,372.62) rotate(-90) scale(0.8500,1)" font-size="8.905" letter-spacing="1.176">RFA–HF  14x2x0.5</text>
<ellipse cx="777.5" cy="372.5" rx="8.5" ry="3" fill="none" stroke="#000" stroke-width="1.0" shape-rendering="geometricPrecision"/>
<rect x="766" y="373" width="1" height="6"/>
<rect x="766" y="373" width="4" height="1"/>
<rect x="929" y="278" width="1" height="101"/>
<ellipse cx="929.5" cy="284" rx="8.7" ry="2.7" fill="none" stroke="#000" stroke-width="1.0" shape-rendering="geometricPrecision"/>
<circle cx="929.5" cy="292.6" r="2.6" fill="none" stroke="#000" stroke-width="1.0" shape-rendering="geometricPrecision"/>
<rect x="918" y="278" width="1" height="15"/>
<rect x="918" y="292" width="10" height="1"/>
<rect x="912" y="301" width="18" height="1"/>
<rect x="912" y="363" width="18" height="2"/>
<rect x="912" y="301" width="1" height="64"/>
<text transform="translate(925.08,360.20) rotate(-90) scale(0.8400,1)" font-size="12.014" letter-spacing="1.429">2–CP–061</text>
<text transform="translate(941.31,372.62) rotate(-90) scale(0.8500,1)" font-size="8.905" letter-spacing="1.176">RFA–HF  14x2x0.5</text>
<rect x="912" y="301" width="1" height="64"/>
<ellipse cx="929.5" cy="372.5" rx="8.5" ry="3" fill="none" stroke="#000" stroke-width="1.0" shape-rendering="geometricPrecision"/>
<rect x="918" y="373" width="1" height="6"/>
<rect x="918" y="373" width="4" height="1"/>
<rect x="1180" y="280" width="1" height="367"/>
<rect x="1163.0" y="301" width="6.0" height="1"/>
<rect x="1175.0" y="301" width="6.0" height="1"/>
<rect x="1163.0" y="364" width="6.0" height="1"/>
<rect x="1175.0" y="364" width="6.0" height="1"/>
<rect x="1163" y="301.0" width="1" height="5.5"/>
<rect x="1163" y="312.7" width="1" height="5.5"/>
<rect x="1163" y="324.4" width="1" height="5.5"/>
<rect x="1163" y="336.1" width="1" height="5.5"/>
<rect x="1163" y="347.8" width="1" height="5.5"/>
<rect x="1163" y="359.5" width="1" height="5.5"/>
<text transform="translate(1176.47,362.14) rotate(-90) scale(0.8400,1)" font-size="12.862" letter-spacing="1.331">2–AS–007</text>
<text transform="translate(1191.92,357.57) rotate(-90) scale(0.9500,1)" font-size="8.057" letter-spacing="0.382">1•4   +   SCR</text>
<rect x="657" y="378" width="98" height="1"/>
<rect x="657" y="438" width="98" height="1"/>
<rect x="657" y="378" width="1" height="61"/>
<rect x="754" y="378" width="1" height="61"/>
<text transform="translate(662.51,398.70) scale(0.5800,1)" font-size="10.318" letter-spacing="1.254" stroke="#000" stroke-width="0.2" vector-effect="non-scaling-stroke">MOTOR  CONTROL  UNIT</text>
<text transform="translate(662.73,409.30) scale(0.5800,1)" font-size="10.177" letter-spacing="1.236" stroke="#000" stroke-width="0.2" vector-effect="non-scaling-stroke">SMU2</text>
<text transform="translate(662.87,419.90) scale(0.5800,1)" font-size="10.177" letter-spacing="1.236" stroke="#000" stroke-width="0.2" vector-effect="non-scaling-stroke">X006</text>
<rect x="743" y="438" width="1" height="15"/>
<rect x="735" y="452" width="17" height="1"/>
<rect x="737" y="455" width="12" height="1"/>
<rect x="740" y="458" width="6" height="1"/>
<rect x="760" y="378" width="138" height="1"/>
<rect x="760" y="438" width="138" height="1"/>
<rect x="760" y="378" width="1" height="61"/>
<rect x="897" y="378" width="1" height="61"/>
<text transform="translate(764.97,399.19) scale(0.5800,1)" font-size="11.166" letter-spacing="0.656" stroke="#000" stroke-width="0.2" vector-effect="non-scaling-stroke">ELECTRIC  STEERING  UNIT</text>
<text transform="translate(765.01,409.50) scale(0.5800,1)" font-size="10.318" letter-spacing="0.606" stroke="#000" stroke-width="0.2" vector-effect="non-scaling-stroke">ESU21</text>
<rect x="886" y="438" width="1" height="15"/>
<rect x="878" y="452" width="17" height="1"/>
<rect x="880" y="455" width="12" height="1"/>
<rect x="883" y="458" width="6" height="1"/>
<rect x="906" y="378" width="152" height="1"/>
<rect x="906" y="438" width="152" height="1"/>
<rect x="906" y="378" width="1" height="61"/>
<rect x="1057" y="378" width="1" height="61"/>
<text transform="translate(911.27,399.19) scale(0.5800,1)" font-size="11.166" letter-spacing="0.573" stroke="#000" stroke-width="0.2" vector-effect="non-scaling-stroke">ELECTRIC  STEERING  UNIT</text>
<text transform="translate(911.31,409.50) scale(0.5800,1)" font-size="10.318" letter-spacing="0.530" stroke="#000" stroke-width="0.2" vector-effect="non-scaling-stroke">ESU22</text>
<rect x="1049" y="438" width="1" height="15"/>
<rect x="1041" y="452" width="17" height="1"/>
<rect x="1043" y="455" width="12" height="1"/>
<rect x="1046" y="458" width="6" height="1"/>
<rect x="777" y="438" width="1" height="175"/>
<ellipse cx="777.5" cy="444.3" rx="8.8" ry="3" fill="none" stroke="#000" stroke-width="1.0" shape-rendering="geometricPrecision"/>
<rect x="766" y="438" width="1" height="7"/>
<rect x="766" y="444" width="4" height="1"/>
<rect x="760" y="458" width="18" height="1"/>
<rect x="760" y="524" width="18" height="1"/>
<rect x="760" y="458" width="1" height="67"/>
<text transform="translate(773.08,522.30) rotate(-90) scale(0.8400,1)" font-size="12.014" letter-spacing="2.028">2–CP–052</text>
<text transform="translate(789.12,515.74) rotate(-90) scale(1.0000,1)" font-size="8.481" letter-spacing="0.580">WDG 20 m</text>
<rect x="863" y="438" width="1" height="92"/>
<ellipse cx="863.5" cy="444.3" rx="8.8" ry="3" fill="none" stroke="#000" stroke-width="1.0" shape-rendering="geometricPrecision"/>
<rect x="852" y="438" width="1" height="7"/>
<rect x="852" y="444" width="4" height="1"/>
<rect x="846" y="458" width="18" height="1"/>
<rect x="846" y="524" width="18" height="1"/>
<rect x="846" y="458" width="1" height="67"/>
<text transform="translate(859.08,519.20) rotate(-90) scale(0.8400,1)" font-size="12.014" letter-spacing="1.947">2–CS–053</text>
<text transform="translate(875.31,528.82) rotate(-90) scale(0.8500,1)" font-size="8.905" letter-spacing="1.072">RFE–HF  1x4x0.75</text>
<rect x="923" y="438" width="1" height="221"/>
<ellipse cx="923.5" cy="444.3" rx="8.8" ry="3" fill="none" stroke="#000" stroke-width="1.0" shape-rendering="geometricPrecision"/>
<rect x="912" y="438" width="1" height="7"/>
<rect x="912" y="444" width="4" height="1"/>
<rect x="906" y="458" width="18" height="1"/>
<rect x="906" y="524" width="18" height="1"/>
<rect x="906" y="458" width="1" height="67"/>
<text transform="translate(919.08,522.30) rotate(-90) scale(0.8400,1)" font-size="12.014" letter-spacing="2.028">2–CP–062</text>
<text transform="translate(935.12,515.54) rotate(-90) scale(1.0000,1)" font-size="8.481" letter-spacing="0.665">WDG 20 m</text>
<rect x="1011" y="438" width="2" height="92"/>
<ellipse cx="1012.5" cy="444.3" rx="8.8" ry="3" fill="none" stroke="#000" stroke-width="1.0" shape-rendering="geometricPrecision"/>
<rect x="1001" y="438" width="1" height="7"/>
<rect x="1001" y="444" width="4" height="1"/>
<rect x="994" y="458" width="19" height="1"/>
<rect x="994" y="524" width="19" height="1"/>
<rect x="994" y="458" width="1" height="67"/>
<text transform="translate(1008.08,519.20) rotate(-90) scale(0.8400,1)" font-size="12.014" letter-spacing="1.947">2–CS–063</text>
<text transform="translate(1024.31,528.42) rotate(-90) scale(0.8500,1)" font-size="8.905" letter-spacing="1.049">RFE–HF  1x4x0.75</text>
<rect x="789" y="529" width="98" height="1"/>
<rect x="789" y="575" width="98" height="1"/>
<rect x="789" y="529" width="1" height="47"/>
<rect x="886" y="529" width="1" height="47"/>
<text transform="translate(793.31,549.60) scale(0.5800,1)" font-size="10.177" letter-spacing="1.476" stroke="#000" stroke-width="0.2" vector-effect="non-scaling-stroke">BRAKE  RESISTOR  UNIT</text>
<text transform="translate(793.31,560.70) scale(0.5800,1)" font-size="10.177" letter-spacing="1.476" stroke="#000" stroke-width="0.2" vector-effect="non-scaling-stroke">BRU21</text>
<rect x="934" y="529" width="98" height="1"/>
<rect x="934" y="575" width="98" height="1"/>
<rect x="934" y="529" width="1" height="47"/>
<rect x="1031" y="529" width="1" height="47"/>
<text transform="translate(939.25,550.39) scale(0.5800,1)" font-size="11.449" letter-spacing="0.620" stroke="#000" stroke-width="0.2" vector-effect="non-scaling-stroke">BRAKE  RESISTOR  UNIT</text>
<text transform="translate(939.25,561.19) scale(0.5800,1)" font-size="11.449" letter-spacing="0.620" stroke="#000" stroke-width="0.2" vector-effect="non-scaling-stroke">BRU22</text>
<rect x="274" y="589" width="799" height="2"/>
<rect x="274" y="803" width="799" height="2"/>
<rect x="274" y="589" width="2" height="216"/>
<rect x="1071" y="589" width="2" height="216"/>
<text transform="translate(282.52,603.89) scale(0.5800,1)" font-size="10.742" letter-spacing="2.398" stroke="#000" stroke-width="0.2" vector-effect="non-scaling-stroke">SAP2</text>
<text transform="translate(285.54,799.20) scale(0.5800,1)" font-size="10.035" letter-spacing="1.520" stroke="#000" stroke-width="0.2" vector-effect="non-scaling-stroke">STEERPROP  AZIMUTH  PROPULSOR</text>
<rect x="320" y="626" width="115" height="2"/>
<rect x="320" y="672" width="115" height="1"/>
<rect x="320" y="626" width="1" height="47"/>
<rect x="434" y="626" width="1" height="47"/>
<text transform="translate(336.71,643.40) scale(0.5800,1)" font-size="11.055" letter-spacing="1.519" stroke="#000" stroke-width="0.2" vector-effect="non-scaling-stroke">STU2  /  XP01,  XP05</text>
<rect x="440" y="626" width="107" height="2"/>
<rect x="440" y="741" width="107" height="1"/>
<rect x="440" y="626" width="1" height="116"/>
<rect x="546" y="626" width="1" height="116"/>
<text transform="translate(448.21,642.60) scale(0.5800,1)" font-size="11.055" letter-spacing="1.578" stroke="#000" stroke-width="0.2" vector-effect="non-scaling-stroke">SCB2  /  XP02,  XP03</text>
<rect x="537" y="741" width="1" height="15"/>
<rect x="529" y="755" width="17" height="1"/>
<rect x="531" y="758" width="12" height="1"/>
<rect x="534" y="761" width="6" height="1"/>
<path d="M351.7,620 A5.8,5.8 0 0 1 363.3,620" fill="none" stroke="#000" stroke-width="1.2" shape-rendering="auto"/>
<rect x="357" y="618" width="2" height="9"/>
<path d="M389.1,620 A5.8,5.8 0 0 1 400.7,620" fill="none" stroke="#000" stroke-width="1.2" shape-rendering="auto"/>
<rect x="394" y="618" width="2" height="9"/>
<path d="M483.3,620 A5.8,5.8 0 0 1 494.9,620" fill="none" stroke="#000" stroke-width="1.2" shape-rendering="auto"/>
<rect x="488" y="618" width="2" height="9"/>
<ellipse cx="357.9" cy="606.9" rx="9" ry="2.8" fill="none" stroke="#000" stroke-width="1.0" shape-rendering="geometricPrecision"/>
<rect x="346" y="606" width="1" height="21"/>
<rect x="346" y="606" width="4" height="1"/>
<ellipse cx="395.0" cy="606.9" rx="9" ry="2.8" fill="none" stroke="#000" stroke-width="1.0" shape-rendering="geometricPrecision"/>
<circle cx="395.0" cy="598.3" r="2.9" fill="none" stroke="#000" stroke-width="1.0" shape-rendering="geometricPrecision"/>
<rect x="383" y="598" width="10" height="1"/>
<rect x="383" y="598" width="1" height="29"/>
<rect x="546" y="632" width="6" height="1"/>
<ellipse cx="551.9" cy="640.9" rx="3.3" ry="8.6" fill="none" stroke="#000" stroke-width="1.0" shape-rendering="geometricPrecision"/>
<rect x="546" y="681" width="6" height="1"/>
<ellipse cx="551.9" cy="689.9" rx="3.3" ry="8.6" fill="none" stroke="#000" stroke-width="1.0" shape-rendering="geometricPrecision"/>
<rect x="546" y="640" width="215" height="1"/>
<rect x="546" y="689" width="361" height="1"/>
<rect x="620" y="624" width="64" height="1"/>
<rect x="620" y="624" width="1" height="17"/>
<rect x="683" y="624" width="1" height="17"/>
<text transform="translate(622.19,635.99) scale(0.9000,1)" font-size="11.307" letter-spacing="1.699">2–CS–054</text>
<text transform="translate(613.14,653.21) scale(0.8500,1)" font-size="9.470" letter-spacing="0.702">RFE–HF  1x4x0.75</text>
<rect x="620" y="672" width="64" height="1"/>
<rect x="620" y="672" width="1" height="18"/>
<rect x="683" y="672" width="1" height="18"/>
<text transform="translate(622.15,684.48) scale(0.9000,1)" font-size="12.155" letter-spacing="1.136">2–CS–064</text>
<text transform="translate(613.15,701.61) scale(0.8500,1)" font-size="9.329" letter-spacing="0.781">RFE–HF  1x4x0.75</text>
<rect x="760" y="612" width="138" height="1"/>
<rect x="760" y="672" width="138" height="1"/>
<rect x="760" y="612" width="1" height="61"/>
<rect x="897" y="612" width="1" height="61"/>
<text transform="translate(765.42,632.79) scale(0.5800,1)" font-size="10.601" letter-spacing="0.904" stroke="#000" stroke-width="0.2" vector-effect="non-scaling-stroke">STEERING  MOTOR  1</text>
<text transform="translate(765.70,643.70) scale(0.5800,1)" font-size="10.327" letter-spacing="1.645" stroke="#000" stroke-width="0.2" vector-effect="non-scaling-stroke">–  FEEDBACK  (BR11)</text>
<text transform="translate(765.70,654.00) scale(0.5800,1)" font-size="10.182" letter-spacing="1.581" stroke="#000" stroke-width="0.2" vector-effect="non-scaling-stroke">–  TERMISTOR  (RT01,RT02,</text>
<text transform="translate(774.30,664.50) scale(0.5800,1)" font-size="10.473" letter-spacing="2.162" stroke="#000" stroke-width="0.2" vector-effect="non-scaling-stroke">RT03)</text>
<rect x="752" y="675" width="17" height="1"/>
<rect x="754" y="678" width="12" height="1"/>
<rect x="757" y="681" width="6" height="1"/>
<rect x="906" y="658" width="152" height="1"/>
<rect x="906" y="718" width="152" height="1"/>
<rect x="906" y="658" width="1" height="61"/>
<rect x="1057" y="658" width="1" height="61"/>
<rect x="906" y="718" width="1" height="4"/>
<text transform="translate(911.32,678.79) scale(0.5800,1)" font-size="10.601" letter-spacing="1.007" stroke="#000" stroke-width="0.2" vector-effect="non-scaling-stroke">STEERING  MOTOR  2</text>
<text transform="translate(911.60,689.70) scale(0.5800,1)" font-size="10.327" letter-spacing="1.679" stroke="#000" stroke-width="0.2" vector-effect="non-scaling-stroke">–  FEEDBACK  (BR12)</text>
<text transform="translate(911.60,700.00) scale(0.5800,1)" font-size="10.182" letter-spacing="1.646" stroke="#000" stroke-width="0.2" vector-effect="non-scaling-stroke">–  TERMISTOR  (RT04,RT05,</text>
<text transform="translate(919.90,710.50) scale(0.5800,1)" font-size="10.473" letter-spacing="2.550" stroke="#000" stroke-width="0.2" vector-effect="non-scaling-stroke">RT06)</text>
<rect x="972" y="721" width="17" height="1"/>
<rect x="974" y="724" width="12" height="1"/>
<rect x="977" y="727" width="6" height="1"/>
<rect x="1117" y="646" width="75" height="2"/>
<rect x="1117" y="692" width="75" height="1"/>
<rect x="1117" y="646" width="1" height="47"/>
<rect x="1191" y="646" width="1" height="47"/>
<text transform="translate(1122.19,667.38) scale(0.5800,1)" font-size="12.014" letter-spacing="0.612" stroke="#000" stroke-width="0.2" vector-effect="non-scaling-stroke">SEAL  OIL  TANK</text>
<text transform="translate(1122.19,678.58) scale(0.5800,1)" font-size="11.873" letter-spacing="0.605" stroke="#000" stroke-width="0.2" vector-effect="non-scaling-stroke">SOT2</text>
<text transform="translate(1122.35,689.78) scale(0.5800,1)" font-size="11.873" letter-spacing="0.605" stroke="#000" stroke-width="0.2" vector-effect="non-scaling-stroke">X009</text>
<rect x="1094" y="669" width="24" height="1"/>
<rect x="1094" y="669" width="1" height="15"/>
<rect x="1086" y="683" width="17" height="1"/>
<rect x="1088" y="686" width="12" height="1"/>
<rect x="1091" y="689" width="6" height="1"/>
<rect x="117.0" y="784" width="6.0" height="1"/>
<rect x="127.8" y="784" width="6.0" height="1"/>
<rect x="138.7" y="784" width="6.0" height="1"/>
<rect x="149.5" y="784" width="6.0" height="1"/>
<rect x="160.3" y="784" width="6.0" height="1"/>
<rect x="171.2" y="784" width="6.0" height="1"/>
<rect x="182.0" y="784" width="6.0" height="1"/>
<rect x="117.0" y="804" width="6.0" height="1"/>
<rect x="127.8" y="804" width="6.0" height="1"/>
<rect x="138.7" y="804" width="6.0" height="1"/>
<rect x="149.5" y="804" width="6.0" height="1"/>
<rect x="160.3" y="804" width="6.0" height="1"/>
<rect x="171.2" y="804" width="6.0" height="1"/>
<rect x="182.0" y="804" width="6.0" height="1"/>
<rect x="117" y="784.0" width="1" height="5.5"/>
<rect x="117" y="799.5" width="1" height="5.5"/>
<rect x="187" y="784.0" width="1" height="5.5"/>
<rect x="187" y="799.5" width="1" height="5.5"/>
<text transform="translate(126.26,799.69) scale(0.5800,1)" font-size="10.742" letter-spacing="1.355" stroke="#000" stroke-width="0.2" vector-effect="non-scaling-stroke">YARD  SUPPLY</text>
<rect x="351" y="809" width="2" height="62"/>
<rect x="351" y="839" width="158" height="2"/>
<rect x="508" y="809" width="2" height="62"/>
<rect x="508" y="850" width="56" height="1"/>
<rect x="563" y="809" width="1" height="62"/>
<rect x="563" y="829" width="69" height="1"/>
<rect x="563" y="850" width="69" height="1"/>
<rect x="631" y="809" width="2" height="62"/>
<rect x="900" y="809" width="1" height="62"/>
<rect x="900" y="829" width="324" height="1"/>
<rect x="1131" y="828" width="93" height="1"/>
<rect x="900" y="850" width="141" height="1"/>
<rect x="951" y="809" width="2" height="42"/>
<rect x="951" y="850" width="1" height="21"/>
<rect x="994" y="829" width="1" height="42"/>
<rect x="1040" y="809" width="1" height="62"/>
<rect x="1131" y="809" width="2" height="21"/>
<rect x="1151" y="829" width="1" height="42"/>
<rect x="1174" y="829" width="1" height="42"/>
<path d="M157.8,825.6 C150,820 140,817.5 133,818 C120,818.5 105,824 100,830 C96,836 99,843 108,846.5 C116,850 130,852 147.3,849.4 C135,849.5 118,846 111,840.5 C107,837 108,832.5 115,829.2 C122,825.8 142,823.8 157.8,825.6 Z" fill="#000" shape-rendering="auto"/>
<path d="M121.3,832.3 C130,829.5 145,829 158.4,835.5 C167,840 171,846 168.5,850 C165,856 152,862 138.1,863.3 C128,864 117,861 110.2,855.4 C120,858 138,858.5 148,856 C156,853 160,849 158.5,844 C156,838 142,831.5 121.3,832.3 Z" fill="#000" shape-rendering="auto"/>
<text transform="translate(172.88,854.49) scale(0.8902,1)" font-size="41.989" font-weight="bold" stroke="#000" stroke-width="1.2">Steerprop</text>
<text transform="translate(353.63,817.21) scale(1.3044,1)" font-size="7.185">Propulsor</text>
<text transform="translate(356.00,835.89) scale(1.0501,1)" font-size="21.201" stroke="#fff" stroke-width="0.35">SP20</text>
<text transform="translate(354.98,848.72) scale(1.2374,1)" font-size="8.027">Yard and NB</text>
<text transform="translate(355.36,864.74) scale(1.0154,1)" font-size="15.972">DY1001–26</text>
<g fill="none" stroke="#000" stroke-width="1" shape-rendering="auto"><path d="M514.8,824 L537.6,821 L537.6,838.8 L514.8,836 Z"/><circle cx="549.4" cy="830.5" r="8.1"/><circle cx="549.4" cy="830.5" r="5.2"/><path d="M549.4,819.2 V840.6 M539.8,830.5 H560.6"/><path d="M512.3,830.5 H539" stroke-dasharray="6 2 1 2"/></g>
<text transform="translate(511.96,857.88) scale(1.2384,1)" font-size="6.863">Weight</text>
<text transform="translate(545.34,866.32) scale(1.4796,1)" font-size="6.649">kg</text>
<text transform="translate(564.93,817.53) scale(1.3042,1)" font-size="7.211">IMO code</text>
<text transform="translate(565.39,838.92) scale(1.1257,1)" font-size="8.027">Scale</text>
<text transform="translate(564.98,858.50) scale(1.0896,1)" font-size="8.145">IP</text>
<text transform="translate(641.64,834.16) scale(1.0694,1)" font-size="16.086">Control System</text>
<text transform="translate(642.42,847.15) scale(1.1427,1)" font-size="14.558">W0064–89</text>
<text transform="translate(641.67,861.84) scale(1.0935,1)" font-size="15.228">Cabling Diagram</text>
<text transform="translate(901.91,817.42) scale(1.2597,1)" font-size="7.599">Date</text>
<text transform="translate(902.30,826.92) scale(0.9516,1)" font-size="8.339">26.7.2007</text>
<text transform="translate(953.72,817.43) scale(1.3193,1)" font-size="7.211">Circuit</text>
<text transform="translate(901.92,838.82) scale(1.1214,1)" font-size="8.459">Draw.</text>
<text transform="translate(905.88,847.13) scale(1.2033,1)" font-size="7.211">AaNi</text>
<text transform="translate(953.79,838.82) scale(1.1241,1)" font-size="8.027">Sheet</text>
<text transform="translate(964.26,848.31) scale(1.2150,1)" font-size="8.844">4 / 6</text>
<text transform="translate(997.61,838.91) scale(1.0062,1)" font-size="8.603">Type</text>
<text transform="translate(902.26,858.42) scale(1.1004,1)" font-size="8.027">Check</text>
<text transform="translate(954.18,858.51) scale(1.1351,1)" font-size="8.603">Appr.</text>
<text transform="translate(995.84,858.42) scale(1.1514,1)" font-size="8.027">Modul</text>
<text transform="translate(1042.33,817.22) scale(1.2211,1)" font-size="7.774">Centre</text>
<text transform="translate(1132.76,816.83) scale(1.2711,1)" font-size="8.043">Project</text>
<text transform="translate(1137.34,827.49) scale(1.0556,1)" font-size="11.166">W0064–89</text>
<text transform="translate(1042.00,838.71) scale(1.1931,1)" font-size="8.150">Drawing no.</text>
<text transform="translate(1047.09,861.69) scale(1.0370,1)" font-size="21.343" stroke="#fff" stroke-width="0.6">C102139</text>
<text transform="translate(1153.14,838.81) scale(1.0487,1)" font-size="8.746">Rev.</text>
<text transform="translate(1154.80,861.90) scale(0.9918,1)" font-size="21.964" stroke="#fff" stroke-width="0.6">B</text>
<text transform="translate(1175.71,838.64) scale(1.1271,1)" font-size="8.492">Lang.</text>
<text transform="translate(1177.67,862.09) scale(0.9973,1)" font-size="22.235" stroke="#fff" stroke-width="0.6">Eng</text>
<text transform="translate(33.39,869.00) rotate(-90) scale(1.3964,1)" font-size="5.362">\\Fs3\FI CAD\Projects\W0064\C102139.dwg</text>
<text transform="translate(46.99,864.00) rotate(-90) scale(0.8284,1)" font-size="10.884">The information contained in this</text>
<text transform="translate(57.66,864.19) rotate(-90) scale(0.8885,1)" font-size="10.295">document is the sole property of</text>
<text transform="translate(68.39,864.20) rotate(-90) scale(0.8689,1)" font-size="10.188">Steerprop Ltd. Any reproduction or</text>
<text transform="translate(79.09,864.18) rotate(-90) scale(0.8879,1)" font-size="10.188">disclosure in part or whole without</text>
<text transform="translate(90.22,863.80) rotate(-90) scale(0.8329,1)" font-size="10.509">written permission is prohibited.</text>
<circle cx="86.9" cy="730.4" r="5.6" fill="none" stroke="#000" stroke-width="1.0" shape-rendering="geometricPrecision"/>
<text transform="translate(89.21,733.54) rotate(-90) scale(1.4589,1)" font-size="8.767">c</text>
</svg>
</body></html>
